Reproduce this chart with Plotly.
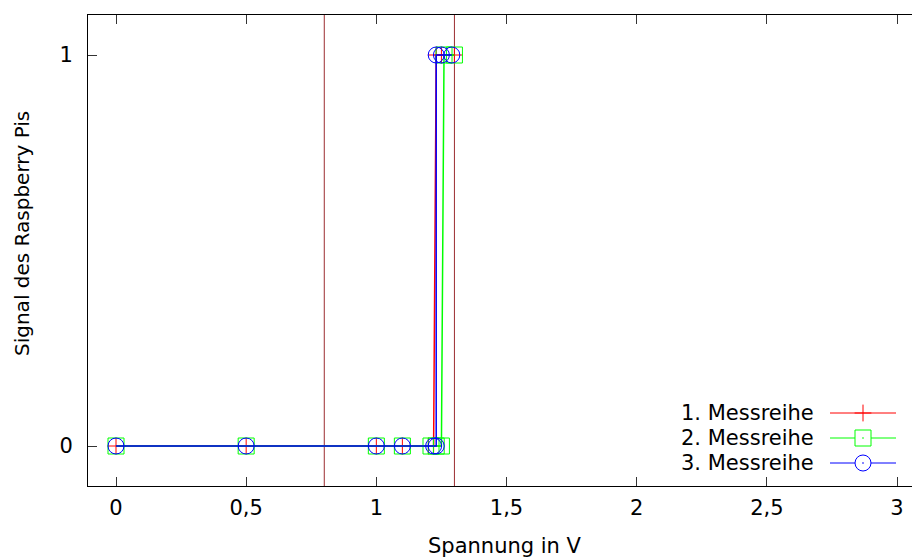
import plotly.graph_objects as go

# Messdaten: angelegte Spannung (V) und gelesenes Signal des Raspberry Pi
spannung_1 = [0, 0.5, 1.0, 1.1, 1.2, 1.22, 1.23, 1.25, 1.3]
signal_1 = [0, 0, 0, 0, 0, 0, 1, 1, 1]
spannung_2 = [0, 0.5, 1.0, 1.1, 1.21, 1.23, 1.25, 1.26, 1.3]
signal_2 = [0, 0, 0, 0, 0, 0, 0, 1, 1]
spannung_3 = [0, 0.5, 1.0, 1.1, 1.22, 1.23, 1.23, 1.25, 1.29]
signal_3 = [0, 0, 0, 0, 0, 0, 1, 1, 1]

reihen_namen = ["1. Messreihe", "2. Messreihe", "3. Messreihe"]
schwellen = [0.8, 1.3]  # Schaltschwellen in V

x_tickvals = [0, 0.5, 1, 1.5, 2, 2.5, 3]
x_ticktext = ["0", "0,5", "1", "1,5", "2", "2,5", "3"]
y_tickvals = [0, 1]
y_ticktext = ["0", "1"]

# Darstellung
W, H = 912, 558
L, R, T, B = 88, 0, 15, 72
FONT = "DejaVu Sans"
FS = 21
farben = ["#ff0000", "#00ff00", "#0000ff"]
symbole = ["cross-thin", "square-open", "circle-open"]
groessen = [12, 16, 16]
legend_symbole = ["cross-thin", "square-dot", "circle-dot"]

reihen = [(spannung_1, signal_1), (spannung_2, signal_2), (spannung_3, signal_3)]

fig = go.Figure()

for (xs, ys), name, farbe, sym, gr in zip(reihen, reihen_namen, farben, symbole, groessen):
    fig.add_trace(go.Scatter(
        x=xs, y=ys, name=name, mode="lines+markers",
        line=dict(color=farbe, width=1.5),
        marker=dict(symbol=sym, size=gr, color=farbe,
                    line=dict(color=farbe, width=1)),
        showlegend=False, xaxis="x", yaxis="y",
    ))

# Legende unten rechts: Text links, Linienmuster rechts (Koordinaten im Plotbereich 0..1)
pw = W - L - R
ph = H - T - B
leg_text_x = (816 - L) / pw
leg_l0 = (830 - L) / pw
leg_l1 = (896 - L) / pw
leg_m = (863 - L) / pw
leg_rows = [(H - B - y) / ph for y in (413, 438, 463)]

annotations = []
for name, farbe, sym, gr, ry in zip(reihen_namen, farben, legend_symbole, groessen, leg_rows):
    fig.add_trace(go.Scatter(
        x=[leg_l0, leg_l1], y=[ry, ry], mode="lines",
        line=dict(color=farbe, width=1), showlegend=False,
        hoverinfo="skip", xaxis="x2", yaxis="y2",
    ))
    marker_fill = farbe if sym == "cross-thin" else "white"
    fig.add_trace(go.Scatter(
        x=[leg_m], y=[ry], mode="markers",
        marker=dict(symbol=sym, size=gr, color=marker_fill,
                    line=dict(color=farbe, width=1)),
        showlegend=False, hoverinfo="skip", xaxis="x2", yaxis="y2",
    ))
    annotations.append(dict(
        x=leg_text_x, y=ry, xref="paper", yref="paper", text=name,
        showarrow=False, xanchor="right", yanchor="middle",
        font=dict(family=FONT, size=FS, color="black"),
    ))

# Achsentitel
annotations.append(dict(
    x=(504.5 - L) / pw, y=(H - B - 545.5) / ph, xref="paper", yref="paper",
    text="Spannung in V", showarrow=False, xanchor="center", yanchor="middle",
    font=dict(family=FONT, size=FS, color="black"),
))
annotations.append(dict(
    x=(22 - L) / pw, y=(H - B - 234) / ph, xref="paper", yref="paper",
    text="Signal des Raspberry Pis", showarrow=False, textangle=-90,
    xanchor="center", yanchor="middle",
    font=dict(family=FONT, size=20, color="black"),
))

shapes = [
    dict(type="line", x0=s, x1=s, y0=0, y1=1, xref="x", yref="paper",
         line=dict(color="#9b2d30", width=1), layer="below")
    for s in schwellen
]

x_px = (897 - 116) / 3.0
x_lo = (L - 116) / x_px
x_hi = (W - R - 116) / x_px
y_px = 446 - 55
y_lo = -(H - B - 446) / y_px
y_hi = 1 + (55 - T) / y_px

fig.update_layout(
    width=W, height=H,
    margin=dict(l=L, r=R, t=T, b=B, autoexpand=False),
    paper_bgcolor="white", plot_bgcolor="white",
    font=dict(family=FONT, size=FS, color="black"),
    showlegend=False,
    annotations=annotations,
    shapes=shapes,
    xaxis=dict(
        range=[x_lo, x_hi], tickvals=x_tickvals, ticktext=x_ticktext,
        ticks="inside", ticklen=9, tickwidth=1, tickcolor="#333",
        showline=True, linecolor="black", linewidth=1, mirror="ticks",
        showgrid=False, zeroline=False, ticklabelstandoff=3,
        tickfont=dict(family=FONT, size=FS, color="black"),
    ),
    yaxis=dict(
        range=[y_lo, y_hi], tickvals=y_tickvals, ticktext=y_ticktext,
        ticks="inside", ticklen=9, tickwidth=1, tickcolor="#333",
        showline=True, linecolor="black", linewidth=1, mirror=False,
        showgrid=False, zeroline=False, ticklabelstandoff=10,
        tickfont=dict(family=FONT, size=FS, color="black"),
    ),
    xaxis2=dict(range=[0, 1], overlaying="x", visible=False, fixedrange=True),
    yaxis2=dict(range=[0, 1], overlaying="y", visible=False, fixedrange=True),
)

fig.write_html("out.html")
